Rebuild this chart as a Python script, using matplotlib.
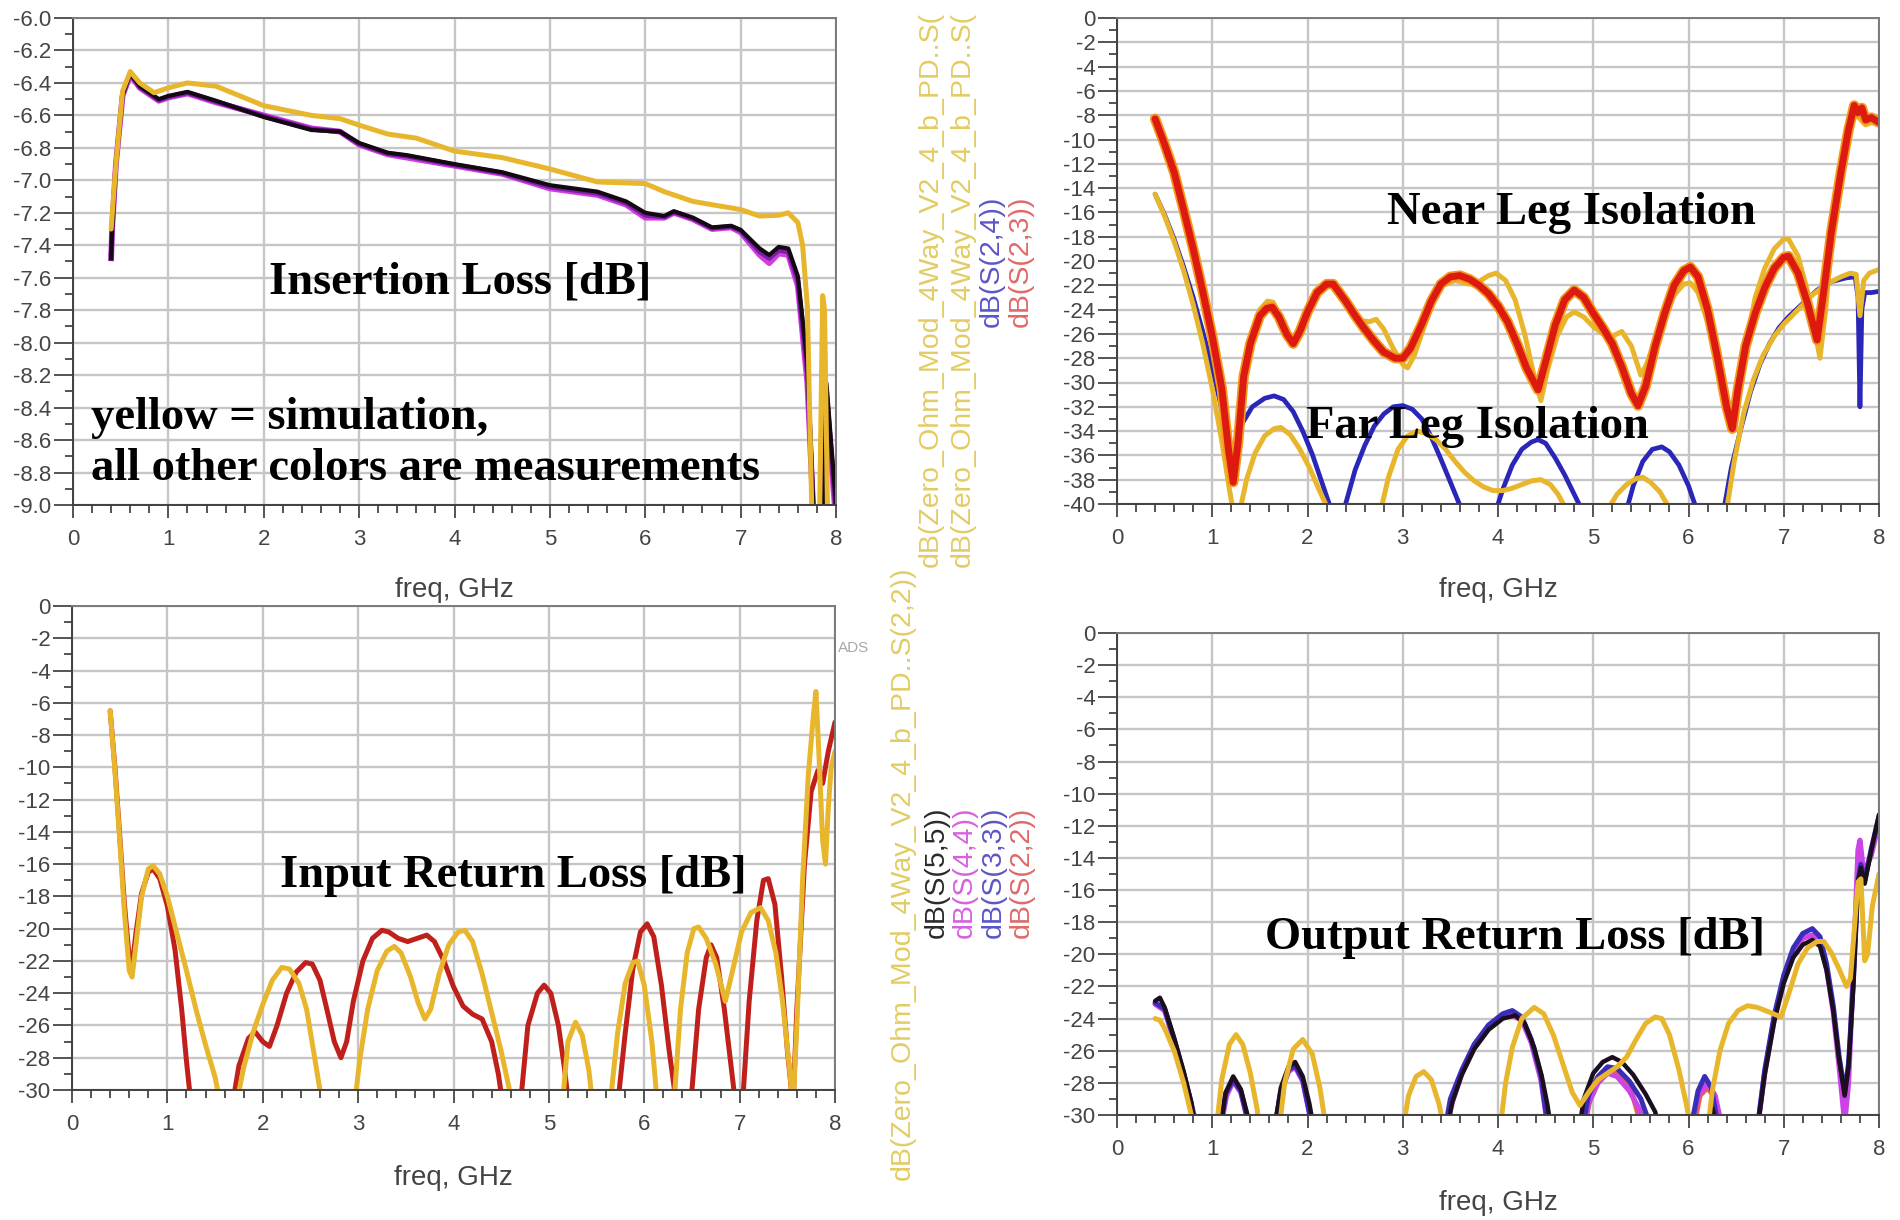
import matplotlib.pyplot as plt
from matplotlib.ticker import MultipleLocator, FormatStrFormatter
import numpy as np

plt.rcParams['font.family'] = ['Liberation Sans', 'DejaVu Sans']
plt.rcParams['axes.unicode_minus'] = False

# ---- insertion loss (top left), (freq GHz, dB) ----
il_sim = [(0.40, -7.30), (0.45, -6.90), (0.52, -6.45), (0.60, -6.33), (0.70, -6.40), (0.85, -6.46),
          (1.00, -6.43), (1.20, -6.40), (1.50, -6.42), (2.00, -6.54), (2.50, -6.60), (2.80, -6.62),
          (3.00, -6.66), (3.30, -6.715), (3.60, -6.74), (4.00, -6.82), (4.50, -6.86), (5.00, -6.93),
          (5.50, -7.01), (6.00, -7.02), (6.20, -7.07), (6.50, -7.13), (7.00, -7.18), (7.20, -7.22),
          (7.40, -7.215), (7.50, -7.20), (7.60, -7.26), (7.65, -7.40), (7.70, -7.78), (7.76, -9.40),
          (7.82, -9.40), (7.86, -7.71), (7.88, -7.80), (7.92, -9.40)]
il_f = [0.40, 0.41, 0.45, 0.52, 0.60, 0.70, 0.90, 1.00, 1.20, 1.50, 2.00, 2.50, 2.80, 3.00, 3.30,
        3.50, 4.00, 4.50, 5.00, 5.50, 5.80, 6.00, 6.20, 6.30, 6.50, 6.70, 6.90, 7.00, 7.20, 7.30,
        7.40, 7.50, 7.60, 7.70, 7.79, 7.86, 7.90, 8.00]
il_s51 = [-7.48, -7.30, -6.90, -6.47, -6.34, -6.42, -6.50, -6.48, -6.455, -6.51, -6.61, -6.69, -6.70,
          -6.77, -6.83, -6.845, -6.90, -6.95, -7.03, -7.07, -7.13, -7.20, -7.22, -7.19, -7.23, -7.29,
          -7.28, -7.305, -7.42, -7.46, -7.41, -7.42, -7.59, -8.13, -9.40, -9.40, -8.25, -9.00]
il_s41 = [-7.48, -7.30, -6.90, -6.48, -6.35, -6.43, -6.51, -6.49, -6.465, -6.52, -6.60, -6.68, -6.70,
          -6.78, -6.84, -6.86, -6.91, -6.96, -7.05, -7.09, -7.15, -7.23, -7.23, -7.20, -7.24, -7.30,
          -7.29, -7.32, -7.46, -7.51, -7.45, -7.46, -7.65, -8.25, -9.40, -9.40, -8.35, -9.10]
il_s31 = [-7.48, -7.30, -6.90, -6.47, -6.345, -6.425, -6.505, -6.485, -6.46, -6.515, -6.605, -6.685,
          -6.70, -6.775, -6.835, -6.85, -6.905, -6.955, -7.04, -7.08, -7.14, -7.215, -7.225, -7.195,
          -7.235, -7.295, -7.285, -7.31, -7.44, -7.48, -7.43, -7.44, -7.62, -8.19, -9.40, -9.40, -8.30, -9.05]

# ---- isolation (top right) ----
nl_s23 = [(0.40, -8.3), (0.50, -10.4), (0.60, -12.7), (0.70, -15.8), (0.80, -19.0), (0.90, -22.5),
          (1.00, -26.2), (1.10, -30.5), (1.17, -35.5), (1.22, -38.2), (1.27, -35.0), (1.33, -29.5),
          (1.40, -26.8), (1.50, -24.5), (1.57, -23.9), (1.63, -23.8), (1.70, -24.6), (1.78, -26.0),
          (1.85, -26.8), (1.92, -25.8), (2.00, -24.2), (2.10, -22.6), (2.20, -21.9), (2.27, -21.9),
          (2.40, -23.3), (2.50, -24.5), (2.60, -25.6), (2.70, -26.6), (2.80, -27.5), (2.92, -28.0),
          (3.00, -28.0), (3.08, -27.2), (3.20, -25.2), (3.30, -23.3), (3.40, -21.9), (3.50, -21.3),
          (3.60, -21.2), (3.70, -21.5), (3.80, -22.0), (3.90, -22.7), (4.00, -23.7), (4.10, -25.0),
          (4.20, -26.8), (4.30, -28.8), (4.42, -30.6), (4.50, -28.3), (4.60, -25.3), (4.70, -23.2),
          (4.80, -22.4), (4.90, -23.0), (5.00, -24.3), (5.10, -25.5), (5.20, -26.8), (5.30, -28.7),
          (5.40, -30.9), (5.47, -31.9), (5.55, -30.3), (5.65, -27.0), (5.75, -24.3), (5.85, -22.0),
          (5.95, -20.8), (6.02, -20.5), (6.10, -21.3), (6.20, -24.0), (6.30, -27.8), (6.40, -32.0),
          (6.46, -33.8), (6.52, -30.5), (6.60, -27.0), (6.70, -24.3), (6.80, -22.2), (6.90, -20.6),
          (7.00, -19.7), (7.05, -19.6), (7.15, -21.0), (7.25, -23.5), (7.35, -26.5), (7.42, -22.5),
          (7.50, -17.6), (7.60, -12.7), (7.68, -9.2), (7.74, -7.2), (7.78, -7.8), (7.82, -7.4),
          (7.86, -8.4), (7.92, -8.2), (8.00, -8.6)]
nl_sim = [(0.40, -8.3), (0.50, -10.5), (0.60, -12.9), (0.70, -16.0), (0.80, -19.3), (0.90, -22.8),
          (1.00, -26.6), (1.10, -31.0), (1.16, -35.0), (1.21, -37.5), (1.26, -34.5), (1.33, -29.0),
          (1.40, -26.3), (1.50, -24.0), (1.58, -23.3), (1.64, -23.4), (1.72, -24.8), (1.80, -26.3),
          (1.86, -27.0), (1.93, -26.0), (2.00, -24.5), (2.10, -22.6), (2.20, -21.7), (2.28, -21.8),
          (2.40, -23.4), (2.55, -24.9), (2.65, -25.0), (2.72, -24.8), (2.80, -25.6), (2.90, -27.2),
          (3.00, -28.5), (3.05, -28.8), (3.12, -27.8), (3.22, -25.5), (3.32, -23.3), (3.42, -22.0),
          (3.55, -21.6), (3.70, -21.9), (3.80, -21.7), (3.90, -21.2), (3.98, -21.0), (4.08, -21.6),
          (4.18, -23.2), (4.28, -26.0), (4.38, -29.5), (4.45, -31.5), (4.52, -29.0), (4.62, -26.2),
          (4.72, -24.6), (4.80, -24.2), (4.90, -24.6), (5.00, -25.4), (5.10, -26.0), (5.20, -26.2),
          (5.30, -25.8), (5.40, -27.0), (5.50, -29.4), (5.56, -28.5), (5.65, -26.5), (5.75, -24.5),
          (5.85, -22.8), (5.95, -21.9), (6.02, -21.8), (6.10, -22.6), (6.20, -25.0), (6.30, -28.5),
          (6.40, -32.5), (6.46, -34.0), (6.52, -31.0), (6.60, -27.0), (6.70, -23.0), (6.80, -20.6),
          (6.90, -19.0), (7.00, -18.2), (7.05, -18.2), (7.15, -19.6), (7.25, -22.5), (7.32, -25.5),
          (7.38, -28.0), (7.44, -24.0), (7.50, -18.5), (7.60, -13.2), (7.68, -9.5), (7.74, -7.8),
          (7.80, -8.3), (7.86, -8.8), (7.92, -8.6), (8.00, -8.8)]
fl_s24 = [(0.40, -14.5), (0.50, -16.2), (0.60, -18.2), (0.70, -20.5), (0.80, -23.0), (0.90, -25.8),
          (1.00, -28.8), (1.10, -32.2), (1.20, -35.5), (1.25, -35.0), (1.32, -33.3), (1.42, -32.0),
          (1.55, -31.3), (1.65, -31.1), (1.75, -31.4), (1.85, -32.4), (1.95, -34.0), (2.05, -35.9),
          (2.15, -38.2), (2.25, -40.5), (2.32, -42.0), (2.40, -40.0), (2.50, -37.2), (2.60, -35.2),
          (2.70, -33.6), (2.80, -32.6), (2.90, -32.0), (3.00, -31.9), (3.10, -32.2), (3.20, -33.0),
          (3.30, -34.5), (3.40, -36.3), (3.50, -38.2), (3.62, -40.5), (3.80, -43.0), (3.98, -40.5),
          (4.05, -38.8), (4.15, -36.8), (4.25, -35.5), (4.35, -34.9), (4.42, -34.7), (4.50, -35.0),
          (4.60, -36.2), (4.70, -37.6), (4.80, -39.2), (4.90, -40.8), (5.10, -43.0), (5.35, -40.5),
          (5.42, -38.5), (5.52, -36.5), (5.62, -35.5), (5.72, -35.3), (5.80, -35.7), (5.90, -36.8),
          (6.00, -38.5), (6.10, -40.8), (6.25, -43.0), (6.37, -40.5), (6.45, -37.0), (6.55, -33.8),
          (6.65, -30.8), (6.75, -28.5), (6.85, -26.8), (6.95, -25.5), (7.05, -24.6), (7.20, -23.5),
          (7.35, -22.4), (7.50, -21.7), (7.65, -21.4), (7.75, -21.3), (7.78, -23.0), (7.80, -32.0),
          (7.82, -24.0), (7.85, -22.6), (7.92, -22.6), (8.00, -22.5)]
fl_sim = [(0.40, -14.5), (0.50, -16.3), (0.60, -18.4), (0.70, -20.8), (0.80, -23.6), (0.90, -26.8),
          (1.00, -30.5), (1.10, -34.8), (1.18, -38.8), (1.23, -41.0), (1.30, -40.2), (1.36, -38.0),
          (1.45, -35.8), (1.55, -34.4), (1.65, -33.8), (1.72, -33.7), (1.82, -34.3), (1.92, -35.5),
          (2.02, -37.0), (2.12, -38.8), (2.22, -40.5), (2.50, -45.0), (2.77, -40.5), (2.85, -37.8),
          (2.95, -35.5), (3.05, -34.4), (3.15, -34.0), (3.25, -34.2), (3.35, -34.7), (3.45, -35.5),
          (3.55, -36.5), (3.65, -37.4), (3.75, -38.1), (3.85, -38.6), (3.95, -38.9), (4.05, -38.9),
          (4.15, -38.7), (4.25, -38.4), (4.35, -38.1), (4.45, -38.0), (4.55, -38.4), (4.63, -39.2),
          (4.72, -40.5), (4.95, -44.0), (5.15, -40.5), (5.25, -39.2), (5.35, -38.4), (5.45, -37.9),
          (5.52, -37.8), (5.60, -38.2), (5.70, -39.0), (5.81, -40.5), (6.10, -45.0), (6.40, -40.5),
          (6.48, -36.5), (6.58, -32.5), (6.68, -29.8), (6.78, -27.8), (6.90, -26.2), (7.00, -25.2),
          (7.15, -24.0), (7.30, -22.8), (7.45, -21.9), (7.60, -21.3), (7.70, -21.0), (7.76, -21.1),
          (7.80, -24.5), (7.84, -21.6), (7.90, -21.0), (8.00, -20.7)]

# ---- input return loss (bottom left) ----
irl_s11 = [(0.40, -6.5), (0.45, -10.0), (0.50, -14.2), (0.55, -18.5), (0.60, -21.8), (0.63, -22.3),
           (0.67, -20.3), (0.73, -17.8), (0.80, -16.5), (0.85, -16.3), (0.92, -16.9), (1.00, -18.6),
           (1.08, -21.3), (1.15, -25.0), (1.20, -28.2), (1.25, -31.0), (1.45, -40.0), (1.68, -31.0),
           (1.75, -28.5), (1.85, -26.8), (1.92, -26.4), (2.00, -27.0), (2.07, -27.3), (2.15, -26.0),
           (2.25, -24.0), (2.35, -22.7), (2.45, -22.1), (2.52, -22.2), (2.60, -23.2), (2.68, -25.2),
           (2.75, -27.0), (2.82, -28.0), (2.88, -27.0), (2.95, -24.5), (3.05, -22.0), (3.15, -20.6),
           (3.25, -20.1), (3.32, -20.2), (3.42, -20.6), (3.52, -20.8), (3.62, -20.6), (3.72, -20.4),
           (3.80, -20.8), (3.90, -22.0), (4.00, -23.6), (4.10, -24.8), (4.20, -25.3), (4.30, -25.6),
           (4.40, -27.0), (4.47, -29.0), (4.52, -31.0), (4.62, -36.0), (4.70, -31.0), (4.78, -26.0),
           (4.88, -24.0), (4.95, -23.5), (5.02, -24.0), (5.10, -26.0), (5.16, -28.5), (5.21, -31.0),
           (5.45, -40.0), (5.72, -31.0), (5.80, -26.5), (5.88, -22.5), (5.96, -20.2), (6.03, -19.7),
           (6.10, -20.5), (6.18, -23.5), (6.26, -27.5), (6.34, -31.0), (6.42, -34.0), (6.50, -30.0),
           (6.57, -25.0), (6.65, -21.8), (6.70, -21.0), (6.76, -21.8), (6.84, -25.0), (6.92, -29.0),
           (6.96, -31.0), (7.00, -33.0), (7.04, -30.0), (7.10, -24.5), (7.18, -19.5), (7.25, -17.0),
           (7.30, -16.9), (7.37, -18.5), (7.44, -23.0), (7.50, -27.5), (7.56, -31.0), (7.60, -25.0),
           (7.68, -16.0), (7.75, -11.5), (7.82, -10.2), (7.87, -11.0), (7.93, -9.0), (8.00, -7.2)]
irl_sim = [(0.40, -6.5), (0.45, -10.2), (0.50, -14.5), (0.55, -19.0), (0.60, -22.6), (0.63, -23.0),
           (0.67, -21.0), (0.73, -18.0), (0.80, -16.3), (0.85, -16.1), (0.92, -16.6), (1.00, -18.0),
           (1.10, -20.3), (1.20, -22.6), (1.30, -25.0), (1.40, -27.2), (1.50, -29.2), (1.56, -31.0),
           (1.64, -34.0), (1.72, -31.0), (1.80, -28.6), (1.90, -26.4), (2.00, -24.7), (2.10, -23.2),
           (2.20, -22.4), (2.28, -22.5), (2.38, -23.4), (2.46, -25.0), (2.53, -27.5), (2.60, -30.0),
           (2.64, -31.0), (2.80, -36.0), (2.96, -31.0), (3.02, -28.0), (3.10, -25.0), (3.20, -22.6),
           (3.30, -21.4), (3.38, -21.1), (3.45, -21.5), (3.55, -23.0), (3.63, -24.6), (3.70, -25.6),
           (3.76, -25.0), (3.85, -22.8), (3.95, -21.0), (4.05, -20.2), (4.12, -20.1), (4.20, -20.8),
           (4.30, -22.8), (4.40, -25.2), (4.50, -27.6), (4.58, -29.8), (4.62, -31.0), (4.90, -38.0),
           (5.14, -31.0), (5.20, -27.0), (5.28, -25.8), (5.35, -26.6), (5.42, -28.8), (5.46, -31.0),
           (5.55, -34.0), (5.64, -31.0), (5.72, -26.5), (5.80, -23.4), (5.88, -22.1), (5.93, -22.0),
           (6.00, -23.5), (6.08, -27.0), (6.14, -31.0), (6.22, -33.0), (6.31, -31.0), (6.38, -25.0),
           (6.45, -21.5), (6.52, -20.0), (6.57, -19.9), (6.65, -20.6), (6.75, -22.2), (6.85, -24.5),
           (6.93, -22.5), (7.02, -20.2), (7.12, -19.0), (7.22, -18.7), (7.30, -19.5), (7.38, -21.5),
           (7.45, -24.5), (7.52, -28.5), (7.56, -31.0), (7.60, -26.0), (7.66, -17.0), (7.72, -10.5),
           (7.77, -7.0), (7.80, -5.3), (7.83, -9.0), (7.87, -14.5), (7.90, -16.0), (7.93, -12.5),
           (7.96, -10.0), (8.00, -9.0)]

# ---- output return loss (bottom right) ----
orl_s55 = [(0.40, -22.9), (0.45, -22.7), (0.50, -23.3), (0.60, -25.2), (0.70, -27.3), (0.78, -29.2),
           (0.83, -31.0), (0.95, -34.0), (1.08, -31.0), (1.14, -28.6), (1.22, -27.6), (1.30, -28.4),
           (1.37, -30.0), (1.40, -31.0), (1.52, -34.0), (1.65, -31.0), (1.72, -28.3), (1.80, -27.0),
           (1.87, -26.7), (1.95, -27.6), (2.02, -29.3), (2.07, -31.0), (2.80, -40.0), (3.46, -31.0),
           (3.52, -29.2), (3.62, -27.5), (3.75, -25.9), (3.90, -24.7), (4.05, -24.0), (4.18, -23.8),
           (4.28, -24.3), (4.38, -25.8), (4.46, -27.6), (4.52, -29.4), (4.56, -31.0), (4.70, -33.0),
           (4.85, -31.0), (4.90, -29.0), (5.00, -27.4), (5.10, -26.7), (5.20, -26.4), (5.30, -26.7),
           (5.42, -27.5), (5.55, -28.7), (5.65, -29.8), (5.70, -31.0), (6.15, -32.0), (6.25, -29.6),
           (6.32, -31.0), (6.55, -36.0), (6.72, -31.0), (6.80, -27.5), (6.90, -24.2), (7.00, -21.8),
           (7.10, -20.2), (7.20, -19.4), (7.30, -19.1), (7.38, -19.5), (7.45, -21.0), (7.52, -23.5),
           (7.58, -26.5), (7.64, -28.8), (7.68, -27.0), (7.73, -22.0), (7.78, -15.5), (7.81, -14.6),
           (7.85, -15.6), (7.92, -13.5), (8.00, -11.3)]
orl_s33 = [(0.40, -23.0), (0.50, -23.4), (0.60, -25.3), (0.70, -27.4), (0.78, -29.3), (0.83, -31.0),
           (0.95, -34.0), (1.08, -31.0), (1.14, -28.7), (1.22, -27.8), (1.30, -28.5), (1.40, -31.0),
           (1.52, -34.0), (1.65, -31.0), (1.72, -28.5), (1.80, -27.2), (1.87, -26.9), (1.95, -27.8),
           (2.06, -31.0), (2.80, -40.0), (3.44, -31.0), (3.50, -29.0), (3.62, -27.2), (3.75, -25.6),
           (3.90, -24.4), (4.05, -23.7), (4.15, -23.5), (4.25, -23.9), (4.35, -25.3), (4.45, -27.5),
           (4.53, -31.0), (4.70, -33.0), (4.88, -31.0), (4.95, -28.8), (5.05, -27.6), (5.15, -27.0),
           (5.25, -27.1), (5.38, -27.9), (5.50, -29.0), (5.62, -31.0), (5.90, -34.0), (6.02, -31.0),
           (6.10, -28.5), (6.17, -27.6), (6.24, -28.3), (6.32, -31.0), (6.55, -36.0), (6.72, -31.0),
           (6.80, -27.2), (6.90, -23.8), (7.00, -21.3), (7.10, -19.6), (7.20, -18.7), (7.30, -18.4),
           (7.38, -18.9), (7.45, -20.6), (7.52, -23.2), (7.58, -26.3), (7.64, -28.6), (7.68, -26.8),
           (7.73, -21.8), (7.78, -15.4), (7.81, -14.4), (7.85, -15.4), (7.92, -13.4), (8.00, -11.4)]
orl_s44 = [(0.40, -23.1), (0.50, -23.5), (0.60, -25.4), (0.70, -27.5), (0.80, -29.8), (0.85, -31.0),
           (0.95, -34.0), (1.08, -31.0), (1.15, -28.8), (1.22, -27.9), (1.30, -28.6), (1.40, -31.0),
           (1.52, -34.0), (1.65, -31.0), (1.72, -28.6), (1.80, -27.3), (1.87, -27.0), (1.95, -27.9),
           (2.06, -31.0), (2.80, -40.0), (3.45, -31.0), (3.52, -29.2), (3.62, -27.4), (3.75, -25.8),
           (3.90, -24.6), (4.05, -23.9), (4.15, -23.8), (4.25, -24.1), (4.35, -25.5), (4.45, -27.8),
           (4.53, -31.0), (4.70, -33.0), (4.88, -31.0), (4.95, -29.3), (5.05, -28.0), (5.15, -27.4),
           (5.25, -27.6), (5.38, -28.5), (5.48, -29.6), (5.56, -31.0), (5.90, -34.0), (6.02, -31.0),
           (6.10, -28.8), (6.20, -28.0), (6.28, -28.8), (6.36, -31.0), (6.55, -36.0), (6.72, -31.0),
           (6.80, -27.4), (6.90, -24.0), (7.00, -21.5), (7.10, -19.9), (7.20, -19.0), (7.30, -18.8),
           (7.38, -19.2), (7.45, -20.9), (7.52, -23.6), (7.58, -26.9), (7.64, -30.5), (7.68, -28.0),
           (7.73, -21.0), (7.78, -13.5), (7.80, -12.9), (7.84, -15.0), (7.92, -13.8), (8.00, -11.8)]
orl_s22 = [(4.90, -31.0), (4.98, -28.6), (5.08, -27.5), (5.18, -27.2), (5.28, -27.5), (5.40, -28.5),
           (5.52, -31.0), (6.05, -31.0), (6.12, -28.8), (6.20, -28.3), (6.28, -29.0), (6.35, -31.0)]
orl_sim = [(0.40, -24.0), (0.45, -24.1), (0.50, -24.6), (0.60, -26.0), (0.70, -28.0), (0.78, -30.0),
           (0.82, -31.0), (0.93, -34.0), (1.04, -31.0), (1.10, -27.8), (1.18, -25.6), (1.25, -25.0),
           (1.32, -25.6), (1.40, -27.4), (1.47, -29.6), (1.50, -31.0), (1.60, -33.0), (1.70, -31.0),
           (1.76, -28.0), (1.85, -25.9), (1.95, -25.3), (2.05, -26.2), (2.13, -28.3), (2.20, -31.0),
           (2.60, -38.0), (3.00, -31.0), (3.06, -28.8), (3.14, -27.6), (3.22, -27.3), (3.30, -27.8),
           (3.38, -29.3), (3.44, -31.0), (3.72, -36.0), (4.02, -31.0), (4.08, -28.0), (4.15, -25.8),
           (4.25, -24.0), (4.38, -23.3), (4.48, -23.7), (4.58, -25.0), (4.68, -26.8), (4.78, -28.6),
           (4.86, -29.4), (4.95, -28.6), (5.05, -27.8), (5.15, -27.4), (5.25, -27.0), (5.35, -26.4),
           (5.45, -25.3), (5.55, -24.3), (5.65, -23.9), (5.72, -24.0), (5.80, -25.0), (5.90, -27.2),
           (5.98, -29.4), (6.03, -31.0), (6.12, -33.0), (6.20, -31.0), (6.25, -28.5), (6.33, -26.0),
           (6.42, -24.3), (6.52, -23.5), (6.62, -23.2), (6.72, -23.3), (6.85, -23.6), (6.97, -23.9),
           (7.05, -22.5), (7.15, -20.6), (7.25, -19.6), (7.35, -19.2), (7.42, -19.2), (7.50, -19.9),
           (7.58, -20.9), (7.66, -22.0), (7.70, -21.5), (7.74, -18.5), (7.78, -15.5), (7.81, -15.3),
           (7.85, -20.4), (7.88, -20.0), (7.93, -17.0), (8.00, -15.0)]

sim_name = 'dB(Zero_Ohm_Mod_4Way_V2_4_b_PD..'

YEL = '#e8b62c'
W, H = 1900, 1220
fig = plt.figure(figsize=(19, 12.2), dpi=100)


def box(l, t, r, b):
    return [l / W, 1 - b / H, (r - l) / W, (b - t) / H]


def frame(ax, ylo, yhi, step, fmt, lab_y):
    ax.set_xlim(0, 8)
    ax.set_ylim(ylo, yhi)
    ax.xaxis.set_major_locator(MultipleLocator(1))
    ax.xaxis.set_minor_locator(MultipleLocator(0.2))
    ax.yaxis.set_major_locator(MultipleLocator(step))
    ax.yaxis.set_minor_locator(MultipleLocator(step / 2))
    ax.yaxis.set_major_formatter(FormatStrFormatter(fmt))
    ax.grid(True, which='major', color='#c6c6c6', lw=1.7)
    ax.set_axisbelow(True)
    ax.tick_params(axis='both', which='both', direction='out', colors='#454545', width=1.3)
    ax.tick_params(axis='y', which='major', length=14, pad=1.5, labelsize=16)
    ax.tick_params(axis='y', which='minor', length=6)
    ax.tick_params(axis='x', which='major', length=9, pad=8, labelsize=16)
    ax.tick_params(axis='x', which='minor', length=6)
    for s in ax.spines.values():
        s.set_color('#7a7a7a')
        s.set_linewidth(1.4)
    ax.spines['left'].set_color('#404040')
    ax.spines['bottom'].set_color('#404040')
    ax.set_xlabel('freq, GHz', fontsize=20, color='#444444', va='center')
    ax.xaxis.set_label_coords(0.5, lab_y)


def trace(ax, pts, color, lw, **kw):
    a = np.array(pts)
    ax.plot(a[:, 0], a[:, 1], color=color, lw=lw, solid_capstyle='round',
            solid_joinstyle='round', **kw)


# top left: insertion loss
ax1 = fig.add_axes(box(73, 18, 836, 505))
frame(ax1, -9.0, -6.0, 0.2, '%.1f', -0.175)
ax1.plot(il_f, il_s41, color='#d43ce0', lw=4.2)
ax1.plot(il_f, il_s31, color='#7a1fa8', lw=3.6)
ax1.plot(il_f, il_s51, color='#140812', lw=3.0)
trace(ax1, il_sim, YEL, 3.6)

# top right: isolation
ax2 = fig.add_axes(box(1117, 18, 1879, 504))
frame(ax2, -40, 0, 2, '%d', -0.177)
trace(ax2, fl_s24, '#2a26b8', 3.4)
trace(ax2, fl_sim, YEL, 3.6)
trace(ax2, nl_sim, YEL, 3.6)
trace(ax2, nl_s23, '#f29a1c', 7.5)
trace(ax2, nl_s23, '#dc1a10', 5.0)

# bottom left: input return loss
ax3 = fig.add_axes(box(72, 606, 835, 1090))
frame(ax3, -30, 0, 2, '%d', -0.182)
trace(ax3, irl_s11, '#c0201c', 3.6)
trace(ax3, irl_sim, YEL, 3.6)

# bottom right: output return loss
ax4 = fig.add_axes(box(1117, 633, 1879, 1115))
frame(ax4, -30, 0, 2, '%d', -0.183)
trace(ax4, orl_s22, '#e8604c', 3.6)
trace(ax4, orl_s44, '#cc44e6', 3.8)
trace(ax4, orl_s33, '#3a2db8', 3.6)
trace(ax4, orl_s55, '#1b0f1f', 3.2)
trace(ax4, orl_sim, YEL, 3.6)

# annotations
serif = dict(family=['Liberation Serif', 'DejaVu Serif'], weight='bold', fontsize=33.5,
             color='black', ha='left', va='baseline')
notes = [(269, 293, 'Insertion Loss [dB]'),
         (91, 429, 'yellow = simulation,'),
         (91, 480, 'all other colors are measurements'),
         (1387, 224, 'Near Leg Isolation'),
         (1306, 438, 'Far Leg Isolation'),
         (280, 887, 'Input Return Loss [dB]'),
         (1265, 949, 'Output Return Loss [dB]')]
for x, y, s in notes:
    fig.text(x / W, 1 - y / H, s, **serif)

# vertical trace labels between the plots (the top two run off the top edge)
legend = [(931, 567, sim_name + 'S(', '#e2cc62'),
          (963, 567, sim_name + 'S(', '#e2cc62'),
          (992, 327, 'dB(S(2,4))', '#5a56c8'),
          (1021, 327, 'dB(S(2,3))', '#e06868'),
          (903, 1180, sim_name + 'S(2,2))', '#e2cc62'),
          (937, 938, 'dB(S(5,5))', '#2a2a2a'),
          (965, 938, 'dB(S(4,4))', '#d860e0'),
          (994, 938, 'dB(S(3,3))', '#5a56c8'),
          (1022, 938, 'dB(S(2,2))', '#e06868')]
for x, y, s, c in legend:
    fig.text(x / W, 1 - y / H, s, rotation=90, ha='center', va='bottom',
             fontsize=20.5, color=c)

fig.text(838 / W, 1 - 648 / H, 'ADS', fontsize=11, color='#a8a8a8', ha='left', va='center')

fig.savefig('out.png', dpi=100)
